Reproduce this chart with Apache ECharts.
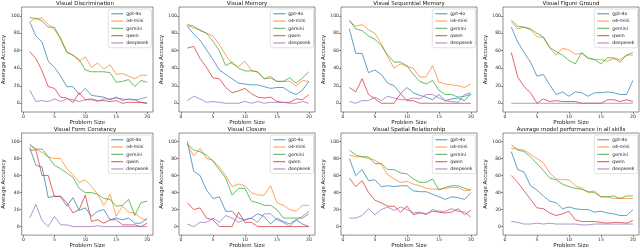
<!DOCTYPE html>
<html>
<head>
<meta charset="utf-8">
<script src="https://cdn.jsdelivr.net/npm/echarts@6/dist/echarts.min.js"></script>
<style>html,body{margin:0;padding:0;background:#fff}#c{width:640px;height:250px}</style>
</head>
<body>
<div id="c"></div>
<script>
// ---------- DATA ----------
const problemSizes = [1,2,3,4,5,6,7,8,9,10,11,12,13,14,15,16,17,18,19,20];
const models = ['gpt-4o','o4-mini','gemini','qwen','deepseek'];
const subplotTitles = ['Visual Discrimination','Visual Memory','Visual Sequential Memory','Visual Figure Ground',
  'Visual Form Constancy','Visual Closure','Visual Spatial Relationship','Average model performance in all skills'];
const xTickValues = [0,5,10,15,20];
const yTickValues = [0,20,40,60,80,100];

// Visual Discrimination
const discrimination_gpt4o   = [93,77,70,48,41,31,19,19,10,17,9,8,7,4,7,3,5,4,1,0];
const discrimination_o4mini  = [93,97,97,90,84,75,59,55,48,53,41,46,39,44,33,34,31,28,32,32];
const discrimination_gemini  = [98,97,94,87,87,73,58,55,50,38,36,36,36,35,24,25,27,19,26,24];
const discrimination_qwen    = [59,51,37,19,17,7,6,1,12,4,5,3,3,2,3,0,1,1,1,0];
const discrimination_deepseek= [15,2,3,2,5,2,5,4,2,4,4,2,5,5,6,5,4,4,5,7];
// Visual Memory
const memory_gpt4o   = [88,79,72,61,50,38,33,28,23,22,21,21,19,17,18,18,13,10,15,25];
const memory_o4mini  = [89,86,84,80,77,67,55,45,42,48,38,35,28,31,25,25,25,20,26,25];
const memory_gemini  = [90,88,83,80,71,60,43,47,40,37,37,36,28,29,25,25,29,23,29,36];
const memory_qwen    = [63,65,51,41,29,28,18,12,14,17,11,7,6,7,2,1,1,5,4,10];
const memory_deepseek= [3,8,5,1,2,1,0,0,0,2,0,2,0,1,1,1,0,0,2,0];
// Visual Sequential Memory
const sequential_gpt4o   = [85,57,57,35,38,33,23,20,11,18,12,9,7,4,10,3,5,6,3,11];
const sequential_o4mini  = [94,88,90,84,80,68,53,40,45,42,40,30,30,43,24,22,21,20,18,22];
const sequential_gemini  = [95,85,83,77,73,66,55,47,47,43,33,25,22,26,15,10,10,7,8,10];
const sequential_qwen    = [18,13,28,10,5,0,0,0,11,3,3,0,0,0,0,0,0,0,0,0];
const sequential_deepseek= [2,0,3,3,7,3,8,6,4,4,6,5,10,10,6,3,2,1,10,12];
// Visual Figure Ground
const figure_gpt4o   = [87,70,58,47,31,33,21,10,13,8,13,12,8,12,12,13,12,10,10,26];
const figure_o4mini  = [93,85,87,84,76,75,63,55,63,61,56,57,51,50,50,48,51,50,55,55];
const figure_gemini  = [95,88,87,85,80,76,64,59,55,49,45,58,52,50,45,52,52,47,55,58];
const figure_qwen    = [58,30,19,12,0,5,2,3,2,2,2,0,0,0,0,4,4,2,4,2];
const figure_deepseek= [0,0,0,0,0,0,0,0,0,0,0,0,0,0,0,0,0,0,0,0];
// Visual Form Constancy
const form_gpt4o   = [93,72,70,34,36,35,24,34,19,22,12,18,20,8,10,8,10,4,4,10];
const form_o4mini  = [95,91,87,82,80,80,68,61,52,55,47,38,25,38,12,24,17,16,10,7];
const form_gemini  = [97,91,91,82,72,68,63,58,45,40,40,38,33,32,24,25,32,13,28,30];
const form_qwen    = [90,90,60,60,35,36,28,16,20,37,6,8,4,8,8,2,2,2,0,4];
const form_deepseek= [10,26,7,0,12,2,2,0,0,0,0,1,0,0,0,0,0,0,0,0];
// Visual Closure
const closure_gpt4o   = [100,65,60,43,33,35,18,18,10,8,10,15,12,3,10,6,3,8,3,0];
const closure_o4mini  = [97,83,92,80,78,70,60,47,50,48,40,37,37,48,28,25,20,18,25,25];
const closure_gemini  = [97,90,88,84,77,67,57,37,45,45,30,28,25,25,20,10,10,10,10,15];
const closure_qwen    = [28,20,22,10,8,0,0,0,17,5,5,0,0,0,0,0,0,0,0,0];
const closure_deepseek= [3,0,5,5,10,5,13,10,5,8,10,5,15,15,8,5,0,8,12,18];
// Visual Spatial Relationship
const spatial_gpt4o   = [80,60,67,54,55,47,48,47,48,48,42,41,41,38,35,32,35,34,32,40];
const spatial_o4mini  = [84,82,82,80,78,73,61,56,52,53,50,48,45,44,44,45,46,46,42,43];
const spatial_gemini  = [90,84,82,82,74,74,67,67,63,62,56,52,52,56,43,46,48,48,45,43];
const spatial_qwen    = [57,47,54,40,31,28,24,24,17,24,14,16,15,18,17,16,17,21,14,19];
const spatial_deepseek= [10,10,13,21,14,20,23,19,23,20,16,17,14,20,18,18,21,18,17,11];
// Average of all skills
const average_gpt4o   = [88,67,64,48,43,36,30,28,21,23,21,20,20,17,18,16,15,13,13,20];
const average_o4mini  = [92,91,90,85,80,75,63,56,55,55,48,45,40,42,35,35,33,33,33,33];
const average_gemini  = [96,90,88,82,74,66,57,55,50,47,45,44,41,40,35,35,36,33,36,36];
const average_qwen    = [60,52,42,32,22,21,16,13,15,18,8,6,6,6,5,4,5,5,4,7];
const average_deepseek= [6,5,3,3,4,3,4,3,3,3,3,2,2,3,3,3,3,3,3,3];

const panels = [
  [discrimination_gpt4o,discrimination_o4mini,discrimination_gemini,discrimination_qwen,discrimination_deepseek],
  [memory_gpt4o,memory_o4mini,memory_gemini,memory_qwen,memory_deepseek],
  [sequential_gpt4o,sequential_o4mini,sequential_gemini,sequential_qwen,sequential_deepseek],
  [figure_gpt4o,figure_o4mini,figure_gemini,figure_qwen,figure_deepseek],
  [form_gpt4o,form_o4mini,form_gemini,form_qwen,form_deepseek],
  [closure_gpt4o,closure_o4mini,closure_gemini,closure_qwen,closure_deepseek],
  [spatial_gpt4o,spatial_o4mini,spatial_gemini,spatial_qwen,spatial_deepseek],
  [average_gpt4o,average_o4mini,average_gemini,average_qwen,average_deepseek]
];

// ---------- LAYOUT / STYLE ----------
const colors = ['#1f77b4','#ff7f0e','#2ca02c','#d62728','#9467bd'];
const colLeft = [17,179,341,503];
const rowTop = [7,133];
const W = 136, H = 105;
const FONT = 'DejaVu Sans';

const grid = [], xAxis = [], yAxis = [], series = [], title = [], legend = [];
panels.forEach((panel, i) => {
  const r = Math.floor(i/4), c = i%4;
  const left = colLeft[c], top = rowTop[r];
  grid.push({left: left, top: top, width: W, height: H, show: true, borderColor: '#444', borderWidth: 0.6, containLabel: false});
  xAxis.push({
    type: 'value', gridIndex: i, min: -0.3, max: 20.95,
    name: 'Problem Size', nameLocation: 'middle', nameGap: 7,
    nameTextStyle: {fontFamily: FONT, fontSize: 5.5, color: '#222'},
    axisLine: {show: false, onZero: false}, splitLine: {show: false},
    axisTick: {show: true, length: 2, lineStyle: {color: '#444', width: 0.6}, customValues: xTickValues},
    axisLabel: {fontFamily: FONT, fontSize: 4.6, color: '#333', margin: 2, customValues: xTickValues}
  });
  yAxis.push({
    type: 'value', gridIndex: i, min: -10, max: 110,
    name: 'Average Accuracy', nameLocation: 'middle', nameGap: 10, nameRotate: 90,
    nameTextStyle: {fontFamily: FONT, fontSize: 5.5, color: '#222'},
    axisLine: {show: false, onZero: false}, splitLine: {show: false},
    axisTick: {show: true, length: 2, lineStyle: {color: '#444', width: 0.6}, customValues: yTickValues},
    axisLabel: {fontFamily: FONT, fontSize: 4.6, color: '#333', margin: 2, customValues: yTickValues}
  });
  title.push({
    text: subplotTitles[i], left: left + W/2, top: top - 6.5, textAlign: 'center', padding: 0,
    textStyle: {fontFamily: FONT, fontSize: 5.5, fontWeight: 'normal', color: '#111'}
  });
  legend.push({
    data: models.map((m, k) => ({name: m, itemStyle: {color: colors[k], opacity: 0.7}})),
    orient: 'vertical', right: 640 - (left + W) + 1.5, top: top + 2,
    backgroundColor: 'rgba(255,255,255,0.85)', borderColor: '#ccc', borderWidth: 0.6, borderRadius: 2,
    padding: [2, 3, 2, 3], itemGap: 1.8, itemWidth: 12, itemHeight: 1.2, icon: 'rect',
    selectedMode: false,
    textStyle: {fontFamily: FONT, fontSize: 4.6, color: '#222', lineHeight: 5.5, height: 5.5, padding: [0,0,0,-2]}
  });
  panel.forEach((vals, k) => {
    series.push({
      type: 'line', name: models[k], xAxisIndex: i, yAxisIndex: i,
      data: problemSizes.map((x, j) => [x, vals[j]]),
      showSymbol: false, symbol: 'none', animation: false,
      lineStyle: {color: colors[k], width: 1, opacity: 0.7},
      itemStyle: {color: colors[k]}
    });
  });
});

const chart = echarts.init(document.getElementById('c'), null, {renderer: 'canvas'});
chart.setOption({animation: false, backgroundColor: '#fff', color: colors, grid, xAxis, yAxis, title, legend, series});
</script>
</body>
</html>
